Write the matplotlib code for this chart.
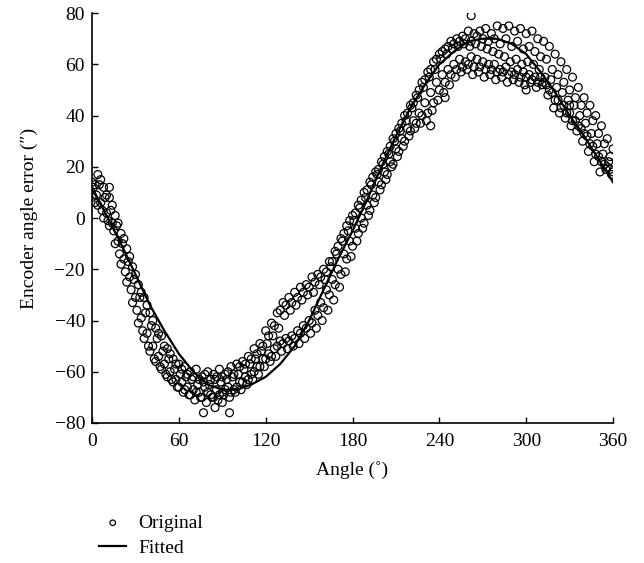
import numpy as np
import matplotlib
matplotlib.use('Agg')
import matplotlib.pyplot as plt

'''Measured encoder error, interleaved passes (4 deg step each)'''
pass1_angle = np.arange(0, 361, 4)
pass1_err = [14, 17, 12, 8, 1, -6, -12, -19, -26, -31, -37, -43, -46, -51, -55, -57,
             -58, -60, -59, -62, -60, -61, -59, -61, -58, -57, -56, -54, -51, -49, -44,
             -41, -37, -33, -31, -29, -27, -26, -23, -22, -20, -17, -13, -8, -3, 1,
             5, 10, 14, 18, 22, 26, 31, 35, 40, 44, 48, 53, 57, 61, 64, 66, 69, 70,
             71, 73, 72, 73, 74, 72, 75, 74, 75, 73, 74, 72, 73, 70, 69, 67, 64, 61,
             58, 55, 51, 47, 44, 40, 36, 31, 27]

pass2_angle = np.arange(1, 358, 4)
pass2_err = [12, 13, 8, 3, -3, -10, -17, -24, -31, -37, -42, -47, -52, -55, -59, -61,
             -62, -63, -65, -64, -65, -63, -64, -63, -62, -61, -59, -57, -55, -52, -49,
             -46, -43, -38, -36, -34, -32, -30, -29, -26, -24, -19, -14, -9, -5, -1,
             4, 8, 13, 17, 21, 25, 30, 34, 38, 43, 47, 51, 55, 58, 62, 64, 66, 67,
             68, 67, 68, 67, 66, 65, 64, 63, 61, 62, 60, 61, 60, 58, 55, 54, 51, 49,
             46, 44, 40, 37, 33, 29, 25, 22]

pass3_angle = np.arange(2, 359, 4)
pass3_err = [6, 6, 2, -2, -9, -16, -23, -31, -39, -45, -50, -54, -57, -60, -63, -64,
             -66, -67, -68, -66, -69, -67, -68, -66, -67, -64, -62, -61, -58, -55, -53,
             -51, -48, -47, -46, -44, -42, -40, -36, -33, -28, -24, -20, -14, -9, -4,
             0, 5, 9, 14, 18, 22, 27, 31, 35, 38, 41, 45, 49, 53, 56, 58, 60, 62,
             61, 63, 62, 61, 60, 60, 58, 59, 57, 58, 57, 56, 55, 55, 52, 49, 46, 44,
             41, 38, 35, 32, 28, 24, 21, 19]

pass4_angle = np.arange(3, 360, 4)
pass4_err = [9, 3, -1, -5, -14, -21, -28, -36, -44, -50, -55, -58, -61, -63, -66, -68,
             -69, -71, -70, -72, -70, -71, -69, -70, -68, -67, -65, -63, -61, -58, -56,
             -54, -52, -51, -50, -49, -47, -45, -43, -40, -36, -32, -27, -21, -15, -9,
             -4, 1, 6, 11, 15, 20, 24, 28, 32, 35, 37, 38, 42, 46, 49, 52, 55, 57,
             58, 56, 57, 55, 56, 54, 55, 53, 54, 53, 52, 53, 51, 52, 48, 43, 41, 39,
             36, 34, 30, 26, 22, 18, 19, 17]

pass5_angle = np.arange(2, 359, 4)
pass5_err = [13, 15, 9, 5, -2, -8, -15, -22, -29, -34, -40, -45, -50, -53, -57, -59,
             -61, -62, -63, -61, -63, -62, -62, -60, -61, -58, -57, -55, -53, -50, -46,
             -42, -36, -34, -33, -31, -29, -27, -25, -23, -21, -17, -11, -6, -1, 2,
             7, 11, 16, 19, 24, 28, 33, 37, 41, 45, 50, 54, 58, 62, 65, 67, 68, 69,
             70, 69, 71, 70, 69, 70, 68, 70, 67, 69, 66, 67, 65, 63, 62, 58, 56, 53,
             50, 47, 44, 41, 38, 33, 29, 24]

pass6_angle = np.arange(0, 361, 4)
pass6_err = [8, 5, 0, -3, -10, -18, -25, -33, -41, -47, -52, -56, -59, -62, -64, -66,
             -67, -69, -68, -70, -68, -70, -69, -67, -68, -66, -64, -63, -60, -58, -55,
             -54, -50, -49, -48, -47, -45, -43, -41, -38, -35, -30, -26, -22, -16, -11,
             -6, -2, 3, 8, 13, 17, 21, 26, 30, 34, 37, 40, 41, 45, 50, 53, 56, 58,
             59, 60, 59, 59, 58, 58, 57, 57, 56, 56, 55, 55, 54, 53, 53, 50, 46, 43,
             41, 38, 36, 33, 29, 25, 22, 20, 18]

# a few stray readings
extra_angle = [262, 77, 95, 85, 90, 234, 244, 12, 300, 330]
extra_err = [79, -76, -76, -74, -72, 36, 47, 12, 50, 44]

'''Fitted curve'''
fit_angle = np.arange(0, 361, 10)
fit_err = [12, 1, -10, -22, -34, -44, -53, -60, -65, -67, -67, -65, -62, -57, -50,
           -40, -28, -16, -5, 7, 20, 32, 43, 52, 60, 65, 69, 70, 70, 68, 64, 57,
           49, 40, 32, 23, 14]

angle = np.concatenate([pass1_angle, pass2_angle, pass3_angle, pass4_angle,
                        pass5_angle, pass6_angle, extra_angle])
err = np.concatenate([pass1_err, pass2_err, pass3_err, pass4_err,
                      pass5_err, pass6_err, extra_err])

plt.rcParams['font.family'] = ['Liberation Serif', 'DejaVu Serif']
plt.rcParams['font.size'] = 14

fig = plt.figure(figsize=(6.44, 5.63), dpi=100)
ax = fig.add_axes([0.1429, 0.2487, 0.809, 0.728])

ax.scatter(angle, err, s=32, facecolors='none', edgecolors='black', linewidths=0.9,
           label='Original')
ax.plot(fit_angle, fit_err, color='black', linewidth=1.6, label='Fitted')

ax.set_xlim(0, 360)
ax.set_ylim(-80, 80)
ax.set_xticks(range(0, 361, 60))
ax.set_yticks(range(-80, 81, 20))
ax.tick_params(direction='in', length=4, width=1)
ax.tick_params(axis='x', pad=7)
ax.tick_params(axis='y', pad=5)
for sp in ['top', 'right']:
    ax.spines[sp].set_visible(False)
for sp in ['left', 'bottom']:
    ax.spines[sp].set_linewidth(1.2)

ax.set_xlabel('Angle (\u02da)', labelpad=8)
ax.set_ylabel('Encoder angle error (\u2033)', labelpad=12)

ax.legend(loc='upper left', bbox_to_anchor=(-0.02, -0.18), frameon=False,
          markerscale=0.7, handlelength=1.4, handletextpad=0.6, labelspacing=0.4,
          fontsize=14)

plt.savefig('out.png', dpi=100)
